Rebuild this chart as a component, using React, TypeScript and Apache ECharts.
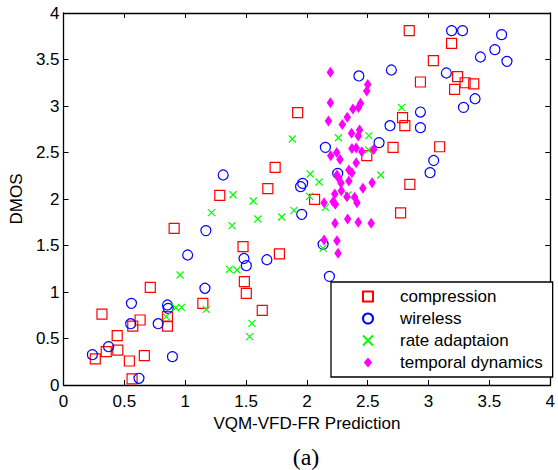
import React, { useEffect, useRef } from "react";
import * as echarts from "echarts";

const seriesNames = ["compression", "wireless", "rate adaptaion", "temporal dynamics"];
const xTicks = [0, 0.5, 1, 1.5, 2, 2.5, 3, 3.5, 4];
const yTicks = [0, 0.5, 1, 1.5, 2, 2.5, 3, 3.5, 4];

const compression: number[][] = [
  [0.909, 1.685], [1.475, 1.487], [1.486, 1.111], [1.502, 0.986], [0.713, 1.05],
  [1.145, 0.878], [0.316, 0.763], [0.629, 0.699], [0.569, 0.634], [0.854, 0.735],
  [0.854, 0.634], [1.633, 0.803], [0.441, 0.53], [0.446, 0.376], [0.351, 0.358],
  [0.261, 0.28], [0.541, 0.258], [0.664, 0.315], [0.563, 0.065], [1.924, 2.928],
  [1.739, 2.34], [1.679, 2.111], [1.284, 2.039], [2.063, 1.996], [1.774, 1.409],
  [2.786, 2.874], [2.805, 2.788], [2.708, 2.555], [2.492, 2.466], [2.77, 1.85],
  [2.846, 2.157], [2.841, 3.81], [3.189, 3.673], [3.039, 3.487], [3.238, 3.315],
  [3.3, 3.25], [3.371, 3.237], [3.214, 3.179], [2.933, 3.258], [3.091, 2.562],
];

const wireless: number[][] = [
  [1.17, 1.66], [1.02, 1.398], [1.483, 1.36], [1.502, 1.283], [1.162, 1.04],
  [0.558, 0.878], [0.854, 0.86], [0.86, 0.824], [0.552, 0.659], [0.778, 0.659],
  [0.37, 0.412], [0.237, 0.326], [0.895, 0.305], [0.62, 0.072], [1.312, 2.258],
  [1.965, 2.168], [1.948, 2.133], [1.957, 1.835], [2.152, 2.555], [2.133, 1.512],
  [1.671, 1.347], [2.185, 1.168], [2.427, 3.323], [2.694, 3.387], [2.683, 2.788],
  [2.593, 2.606], [2.253, 2.275], [3.189, 3.81], [3.279, 3.81], [3.6, 3.767],
  [3.545, 3.606], [3.644, 3.48], [3.426, 3.527], [3.146, 3.355], [3.382, 3.078],
  [3.287, 2.985], [2.933, 2.935], [2.933, 2.767], [3.042, 2.414], [3.012, 2.283],
];

const rateAdaptation: number[][] = [
  [1.385, 1.713], [0.958, 1.183], [1.363, 1.244], [1.426, 1.237], [0.922, 0.831],
  [0.969, 0.835], [0.843, 0.735], [1.173, 0.813], [1.548, 0.663], [1.529, 0.52],
  [1.88, 2.645], [2.027, 2.269], [2.1, 2.183], [2.022, 2.028], [2.152, 1.91],
  [1.393, 2.046], [1.559, 1.978], [1.894, 1.878], [1.216, 1.853], [1.597, 1.785],
  [1.793, 1.806], [2.133, 1.469], [2.778, 2.982], [2.259, 2.659], [2.509, 2.681],
  [2.506, 2.527], [2.607, 2.258], [2.337, 2.043],
];

const temporalDynamics: number[][] = [
  [2.193, 3.362], [2.5, 3.232], [2.492, 3.161], [2.193, 3.036], [2.441, 3.029],
  [2.378, 2.968], [2.424, 2.985], [2.177, 2.839], [2.332, 2.878], [2.291, 2.802],
  [2.433, 2.742], [2.367, 2.706], [2.422, 2.677], [2.37, 2.544], [2.405, 2.548],
  [2.451, 2.509], [2.549, 2.533], [2.196, 2.466], [2.245, 2.501], [2.272, 2.426],
  [2.405, 2.39], [2.345, 2.312], [2.37, 2.283], [2.247, 2.258], [2.261, 2.222],
  [2.345, 2.194], [2.28, 2.172], [2.536, 2.175], [2.46, 2.115], [2.283, 2.089],
  [2.229, 2.054], [2.215, 1.971], [2.329, 2.025], [2.392, 2.018], [2.411, 1.96],
  [2.141, 1.96], [2.234, 1.943], [2.231, 1.738], [2.335, 1.785], [2.422, 1.749],
  [2.528, 1.738], [2.141, 1.559], [2.247, 1.552], [2.256, 1.416],
];

const FONT = "'Liberation Sans', Arial, sans-serif";
const fmt = (v: number) => String(v);

const SQUARE = "path://M0,0L10,0L10,10L0,10Z";
const CROSS = "path://M0,0L10,10M10,0L0,10";
const DIAMOND = "path://M5,0L10,6L5,12L0,6Z";

export default function App() {
  const ref = useRef<HTMLDivElement>(null);
  useEffect(() => {
    if (!ref.current) return;
    const chart = echarts.init(ref.current, null, { renderer: "svg" });
    const axisCommon = {
      type: "value" as const,
      min: xTicks[0],
      max: xTicks[xTicks.length - 1],
      interval: 0.5,
      splitLine: { show: false },
      axisLine: { show: true, onZero: false, lineStyle: { color: "#000", width: 1.3 } },
      axisTick: { show: true, inside: true, length: 5, lineStyle: { color: "#000" } },
    };
    chart.setOption({
      animation: false,
      backgroundColor: "#fff",
      grid: { left: 62, right: 6, top: 13, bottom: 85, containLabel: false },
      xAxis: [
        {
          ...axisCommon,
          position: "bottom",
          name: "VQM-VFD-FR Prediction",
          nameLocation: "middle",
          nameGap: 28,
          nameTextStyle: { color: "#000", fontSize: 17, fontFamily: FONT },
          axisLabel: { color: "#000", fontSize: 17, fontFamily: FONT, margin: 8, formatter: fmt },
        },
        {
          ...axisCommon,
          position: "top",
          axisLabel: { show: false },
        },
      ],
      yAxis: [
        {
          ...axisCommon,
          min: yTicks[0],
          max: yTicks[yTicks.length - 1],
          position: "left",
          name: "DMOS",
          nameLocation: "middle",
          nameGap: 37,
          nameTextStyle: { color: "#000", fontSize: 17, fontFamily: FONT },
          axisLabel: { color: "#000", fontSize: 17, fontFamily: FONT, margin: 4, formatter: fmt },
        },
        {
          ...axisCommon,
          min: yTicks[0],
          max: yTicks[yTicks.length - 1],
          position: "right",
          axisLabel: { show: false },
        },
      ],
      legend: {
        orient: "vertical",
        left: 331,
        top: 282,
        itemWidth: 54,
        itemHeight: 10,
        itemGap: 5,
        padding: [6, 10, 6, 31],
        borderColor: "#000",
        borderWidth: 1.3,
        backgroundColor: "#fff",
        symbolKeepAspect: true,
        textStyle: { color: "#000", fontSize: 17, fontFamily: FONT },
        data: seriesNames,
      },
      series: [
        {
          name: seriesNames[0],
          type: "scatter",
          data: compression,
          symbol: SQUARE,
          symbolSize: 10,
          symbolKeepAspect: true,
          itemStyle: { color: "rgba(0,0,0,0)", borderColor: "#ff0000", borderWidth: 1.2, opacity: 1 },
        },
        {
          name: seriesNames[1],
          type: "scatter",
          data: wireless,
          symbol: "circle",
          symbolSize: 10,
          symbolKeepAspect: true,
          itemStyle: { color: "rgba(0,0,0,0)", borderColor: "#0000ff", borderWidth: 1.2, opacity: 1 },
        },
        {
          name: seriesNames[2],
          type: "scatter",
          data: rateAdaptation,
          symbol: CROSS,
          symbolSize: 7,
          symbolKeepAspect: true,
          itemStyle: { color: "rgba(0,0,0,0)", borderColor: "#00ff00", borderWidth: 1.2, opacity: 1 },
        },
        {
          name: seriesNames[3],
          type: "scatter",
          data: temporalDynamics,
          symbol: DIAMOND,
          symbolSize: [9, 11],
          symbolKeepAspect: true,
          itemStyle: { color: "#ff00ff", opacity: 1 },
        },
      ],
      graphic: [
        {
          type: "text",
          x: 306,
          y: 457,
          style: {
            text: "(a)",
            fill: "#000",
            fontSize: 24,
            fontFamily: "'Liberation Serif', 'Times New Roman', serif",
            align: "center",
            verticalAlign: "middle",
          },
        },
      ],
    });
    return () => chart.dispose();
  }, []);
  return (
    <div
      ref={ref}
      style={{ position: "fixed", left: 0, top: 0, width: 558, height: 470, background: "#fff" }}
    />
  );
}
